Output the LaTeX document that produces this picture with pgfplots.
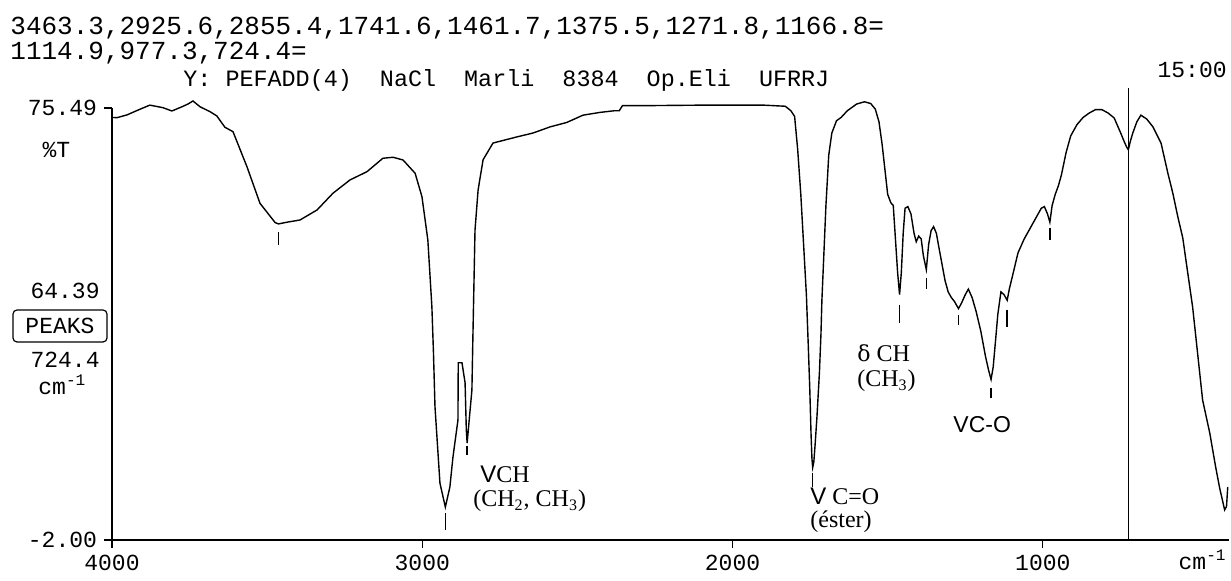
\documentclass[border=0pt]{standalone}
\usepackage{pgfplots}
\pgfplotsset{compat=1.18}
\usepackage{fontspec}
\setmainfont{Liberation Serif}
\newfontfamily\mono{Liberation Mono}
\newfontfamily\arial{Liberation Sans}
\newfontfamily\dvs{DejaVu Serif}

\pgfplotstableread{
x y
4000 73.8
3984 73.75
3952 74.24
3910 75.26
3878 76.0
3836 75.55
3807 74.95
3774 75.72
3755 76.2
3739 76.75
3716 75.7
3684 74.83
3662 74.06
3636 72.03
3610 71.24
3565 64.96
3523 58.39
3474 54.92
3463.3 54.7
3436 55.0
3394 55.4
3339 57.2
3288 60.19
3233 62.58
3178 64.07
3127 66.47
3094 66.65
3062 66.16
3023 63.78
3001 59.58
2982 51.81
2969 39.85
2964 31.8
2959 21.9
2943 8.2
2925.6 3.9
2911 7.5
2901 12.9
2885 19.5
2884 29.8
2872 29.8
2862 26.2
2858 17.7
2855.4 15.4
2840 24.9
2837 33.9
2830 53.6
2820 60.8
2804 66.2
2772 69.2
2695 70.3
2643 71.0
2588 72.1
2534 72.9
2482 74.2
2427 74.7
2380 75.0
2365 75.0
2355 75.9
2300 75.9
2100 76.0
1900 76.0
1830 75.8
1812 75.0
1800 74.0
1790 68
1780 60
1770 50
1762 42
1756 33
1751 25
1747 17
1744 12.5
1741.6 11.0
1738 12.0
1734 15
1728 20
1720 28
1715 35
1712 41
1699 58
1690 67
1680 71
1665 73.2
1650 73.8
1630 75.0
1600 76.2
1575 76.6
1555 76.3
1540 75.3
1528 73
1518 69
1508 64
1500 60
1490 58.5
1482 58
1475 52
1468 46
1461.7 42
1456 46
1450 53
1444 57.5
1435 57.8
1425 56.5
1415 53
1408 51.5
1400 52.5
1392 52
1385 49
1375.5 46.5
1368 51
1360 53.5
1352 54.2
1343 53
1335 50.5
1325 47.5
1315 44.5
1305 42.5
1295 41.5
1285 40.8
1271.8 39.5
1262 40.5
1250 42
1240 43
1228 41.5
1215 39
1200 35.5
1185 31
1175 28.5
1166.8 26.8
1160 29
1152 34
1145 38.5
1135 42.5
1125 42
1114.9 41
1108 43
1095 46
1080 49.5
1060 52
1040 54
1020 56
1005 57.5
995 57.8
985 56.5
977.3 55
970 58
960 60
950 61.5
940 63.5
925 67.5
910 70.5
890 72.5
870 73.8
850 74.6
830 75.2
810 75.2
790 74.6
770 73.7
749 71.0
738 69.5
730 68.5
724.4 68
718 69.5
710 71.0
697 73
684 74.2
665 73.5
645 72.1
619 69.2
597 63.8
581 60.2
565 56
549 52.2
517 39.7
485 23.1
462 17.2
443 11.1
430 7.3
414 3.4
408 4
404 7.5
}\spectrum

\pgfplotstableread{
x y
3463.3 53.2
3463.3 50.9
nan nan
2925.6 2.8
2925.6 -0.2
nan nan
2855.4 14.8
2855.4 13.3
nan nan
1741.6 10.0
1741.6 7.5
nan nan
1461.7 40.2
1461.7 36.9
nan nan
1375.5 45.0
1375.5 43.0
nan nan
1271.8 38.4
1271.8 36.6
nan nan
1166.8 25.3
1166.8 23.5
nan nan
1114.9 39.3
1114.9 36.2
nan nan
977.3 54.0
977.3 51.8
nan nan
724.4 79.1
724.4 -2
}\peakmarks

\begin{document}
\begin{tikzpicture}[x=1pt,y=1pt]
\path[use as bounding box] (0,0) rectangle (615.5,290.5);
\begin{axis}[
  at={(56pt,20.5pt)}, anchor=south west,
  width=558.5pt, height=216pt, scale only axis,
  x dir=reverse, xmin=400, xmax=4000, ymin=-2, ymax=75.49,
  axis x line=bottom, axis y line=left,
  axis line style={-, line width=0.8pt, black},
  clip=false,
  xtick={4000,3000,2000,1000}, xticklabels={4000,3000,2000,1000},
  ytick={-2,75.49}, yticklabels={-2.00,75.49},
  tick align=outside, major tick length=4pt,
  tick style={line width=0.6pt, black},
  ticklabel style={font=\mono\fontsize{11.5}{12}\selectfont},
  unbounded coords=jump,
]
\addplot[black, line width=0.7pt] table {\spectrum};
\addplot[black, line width=0.7pt] table {\peakmarks};
\end{axis}
% header
\node[anchor=base west, inner sep=0pt, font=\mono\fontsize{13}{14}\selectfont] at (5,273) {3463.3,2925.6,2855.4,1741.6,1461.7,1375.5,1271.8,1166.8=};
\node[anchor=base west, inner sep=0pt, font=\mono\fontsize{13}{14}\selectfont] at (5,260.5) {1114.9,977.3,724.4=};
\node[anchor=base west, inner sep=0pt, font=\mono\fontsize{11.7}{12}\selectfont] at (91.5,247) {Y: PEFADD(4)\ \ NaCl\ \ Marli\ \ 8384\ \ Op.Eli\ \ UFRRJ};
\node[anchor=base east, inner sep=0pt, font=\mono\fontsize{11.5}{12}\selectfont] at (613.5,251.5) {15:00};
% left readout
\node[inner sep=0pt, font=\mono\fontsize{11.5}{12}\selectfont] at (28.25,215.5) {\%T};
\node[anchor=east, inner sep=0pt, font=\mono\fontsize{11.5}{12}\selectfont] at (50,145) {64.39};
\node[draw, rounded corners=2pt, line width=0.6pt, minimum width=47pt, minimum height=16pt, inner sep=0pt, font=\mono\fontsize{11.5}{12}\selectfont] at (30,127.5) {PEAKS};
\node[anchor=east, inner sep=0pt, font=\mono\fontsize{11.5}{12}\selectfont] at (50,110.5) {724.4};
\node[anchor=west, inner sep=0pt, font=\mono\fontsize{11.5}{12}\selectfont] at (19,98) {cm\textsuperscript{-1}};
\node[anchor=east, inner sep=0pt, font=\mono\fontsize{11.5}{12}\selectfont] at (613.5,10.5) {cm\textsuperscript{-1}};
% annotations
\node[anchor=base west, inner sep=0pt, font=\fontsize{12}{13}\selectfont] at (240,49) {{\arial V}CH};
\node[anchor=base west, inner sep=0pt, font=\fontsize{12}{13}\selectfont] at (236.5,37) {(CH\textsubscript{2}, CH\textsubscript{3})};
\node[anchor=base west, inner sep=0pt, font=\fontsize{12}{13}\selectfont] at (405,38) {{\arial V} C=O};
\node[anchor=base west, inner sep=0pt, font=\fontsize{12}{13}\selectfont] at (405,26.5) {(éster)};
\node[anchor=base west, inner sep=0pt, font=\fontsize{12}{13}\selectfont] at (428.5,109.5) {{\dvs\fontsize{11}{12}\selectfont δ} CH};
\node[anchor=base west, inner sep=0pt, font=\fontsize{12}{13}\selectfont] at (428.5,97) {(CH\textsubscript{3})};
\node[anchor=base west, inner sep=0pt, font=\arial\fontsize{11.5}{12}\selectfont] at (476.5,74) {VC-O};
\end{tikzpicture}
\end{document}
